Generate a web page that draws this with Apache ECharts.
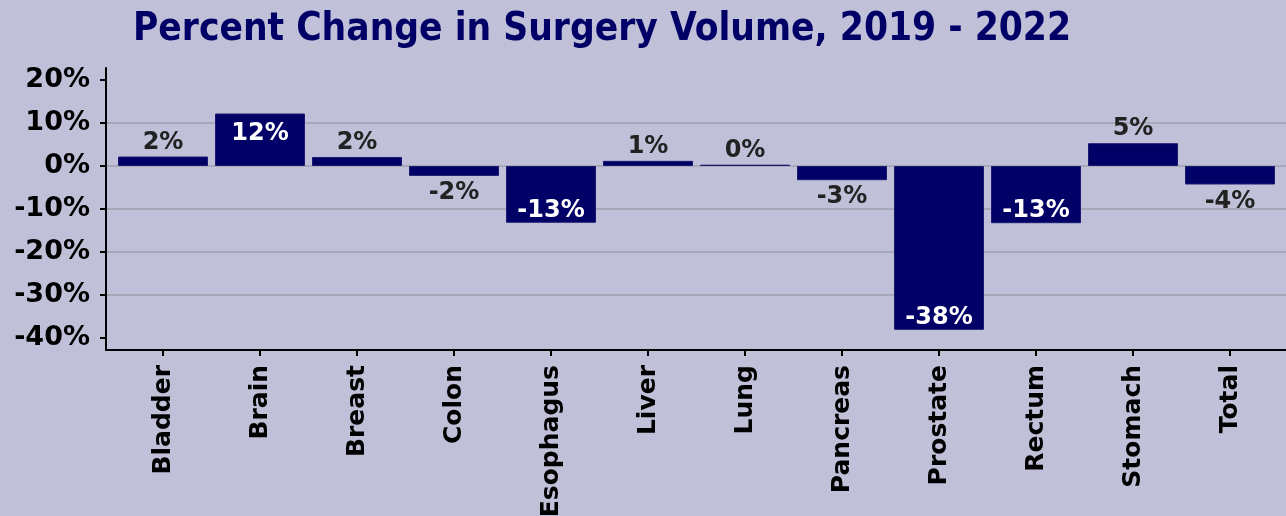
<!DOCTYPE html>
<html>
<head>
<meta charset="utf-8">
<title>Percent Change in Surgery Volume</title>
<script src="https://cdn.jsdelivr.net/npm/echarts@6/dist/echarts.min.js"></script>
<style>
  html, body { margin: 0; padding: 0; background: #c0c0d9; }
  #chart { width: 1286px; height: 516px; }
</style>
</head>
<body>
<div id="chart"></div>
<script>
// values (percent)
const categories = ['Bladder', 'Brain', 'Breast', 'Colon', 'Esophagus', 'Liver', 'Lung', 'Pancreas', 'Prostate', 'Rectum', 'Stomach', 'Total'];
const changes = [2.2, 12.2, 2.1, -2.3, -13.2, 1.2, 0.3, -3.3, -38.1, -13.3, 5.3, -4.3];
const yTicks = [-40, -30, -20, -10, 0, 10, 20];

const navy = '#000066';
const yMin = -42.79;
const yMax = 22.79;

// big bars carry their label inside in white, small ones outside in dark grey
const labelSpots = {
    top: 2, insideTop: 8, bottom: 5, insideBottom: 0
};
const barData = changes.map(v => {
    const big = Math.abs(v) > 10;
    let pos;
    if (v >= 0) pos = big ? 'insideTop' : 'top';
    else pos = big ? 'insideBottom' : 'bottom';
    return {
        value: v,
        label: { position: pos, distance: labelSpots[pos], color: big ? '#ffffff' : '#222222' }
    };
});

const chart = echarts.init(document.getElementById('chart'), null, { renderer: 'canvas' });

chart.setOption({
    backgroundColor: '#c0c0d9',
    animation: false,
    title: {
        text: 'Percent Change in Surgery Volume, 2019 - 2022',
        left: 597,
        textAlign: 'center',
        top: 5,
        textStyle: {
            fontFamily: 'DejaVu Sans Condensed',
            fontWeight: 'bold',
            fontSize: 38.5,
            color: navy
        }
    },
    grid: [
        // frame: y axis, grid lines, bottom axis line
        { left: 106, right: 0, top: 68, bottom: 166, outerBoundsMode: 'none' },
        // bars
        { left: 114.5, right: 7.5, top: 68, bottom: 166, outerBoundsMode: 'none' }
    ],
    xAxis: [
        {
            gridIndex: 0, type: 'value', min: 0, max: 1,
            axisLine: { show: true, onZero: false, lineStyle: { color: '#000', width: 2 } },
            axisTick: { show: false }, axisLabel: { show: false }, splitLine: { show: false }
        },
        {
            gridIndex: 1, type: 'category', data: categories, position: 'bottom',
            axisLine: { show: false, onZero: false },
            axisTick: { show: true, alignWithLabel: true, length: 6, lineStyle: { color: '#000', width: 2 } },
            axisLabel: {
                rotate: 90, interval: 0, margin: 15,
                fontFamily: 'DejaVu Sans', fontWeight: 'bold', fontSize: 25, color: '#000'
            }
        }
    ],
    yAxis: [
        {
            gridIndex: 0, type: 'value', min: yMin, max: yMax,
            axisLine: { show: true, lineStyle: { color: '#000', width: 2 } },
            axisTick: { show: true, length: 6, customValues: yTicks, lineStyle: { color: '#000', width: 2 } },
            axisLabel: {
                customValues: yTicks, margin: 16,
                formatter: v => v + '%',
                fontFamily: 'DejaVu Sans', fontWeight: 'bold', fontSize: 27, color: '#000'
            },
            splitLine: { show: true, showMinLine: false, showMaxLine: false, lineStyle: { color: '#a8a8b8', width: 2 } }
        },
        {
            gridIndex: 1, type: 'value', min: yMin, max: yMax,
            axisLine: { show: false }, axisTick: { show: false }, axisLabel: { show: false }, splitLine: { show: false }
        }
    ],
    series: [{
        type: 'bar',
        xAxisIndex: 1,
        yAxisIndex: 1,
        data: barData,
        barWidth: 90,
        itemStyle: { color: navy, borderColor: '#1a1a70', borderWidth: 1 },
        label: {
            show: true,
            fontFamily: 'DejaVu Sans',
            fontWeight: 'bold',
            fontSize: 24,
            formatter: p => Math.round(p.value) + '%'
        }
    }]
});
</script>
</body>
</html>
